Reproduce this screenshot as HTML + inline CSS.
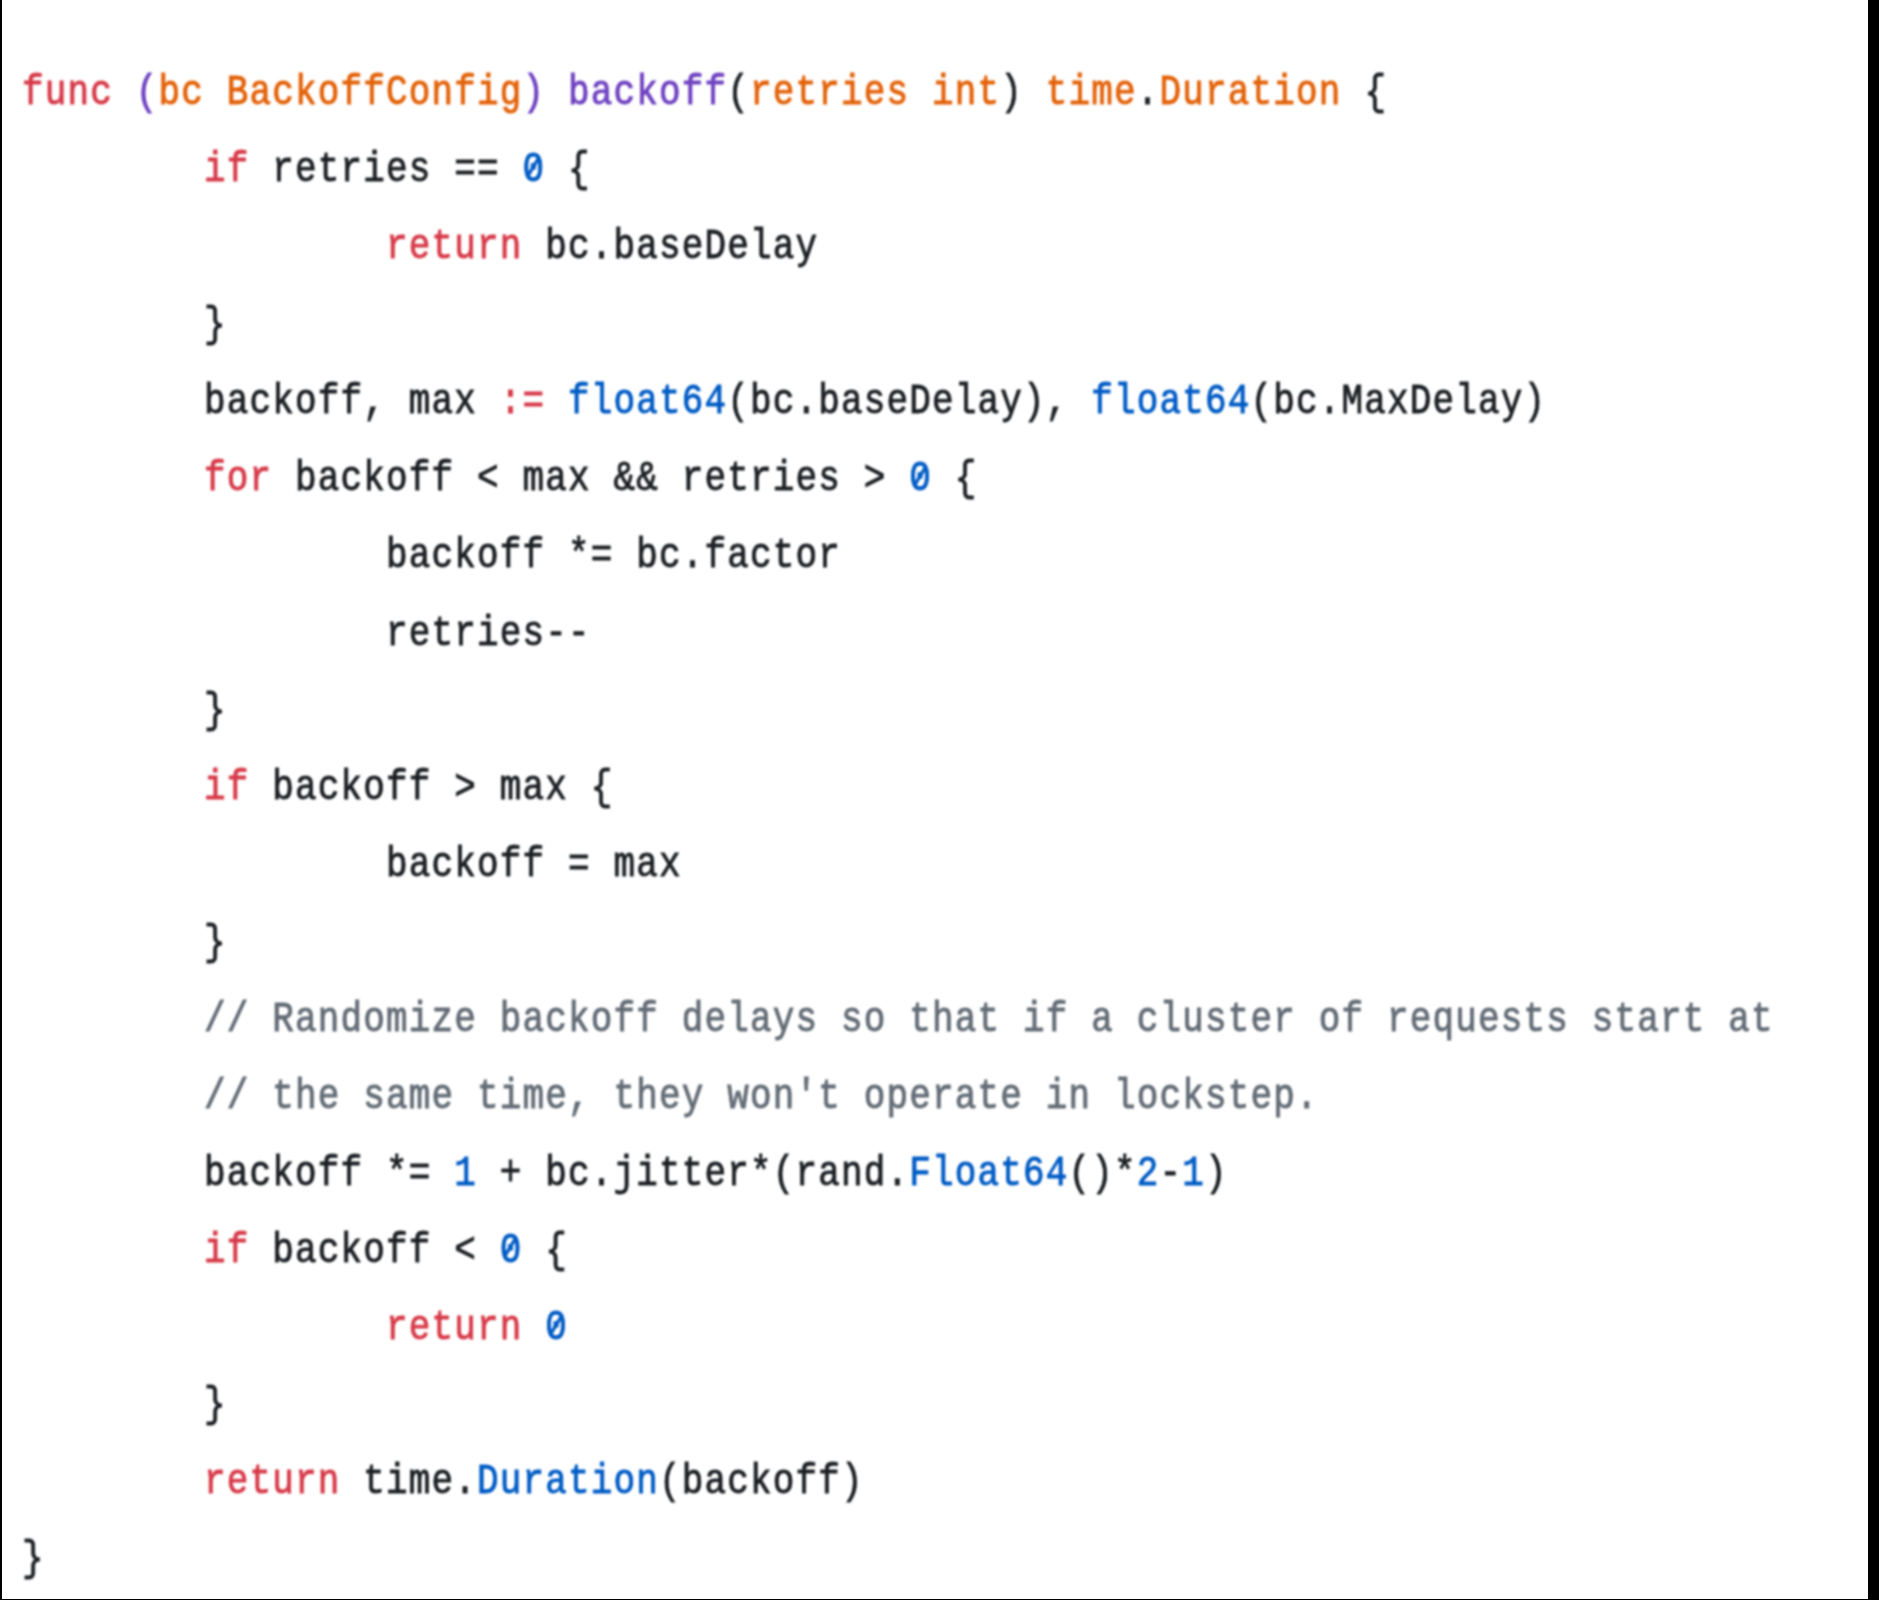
<!DOCTYPE html>
<html><head><meta charset="utf-8">
<style>
html,body{margin:0;padding:0;}
body{width:1879px;height:1600px;position:relative;overflow:hidden;background:#ffffff;}
#lb{position:absolute;left:0;top:0;width:2px;height:1600px;background:#000;}
#rb{position:absolute;left:1868px;top:0;width:11px;height:1600px;background:#000;}
#bb{position:absolute;left:0;top:1599px;width:1879px;height:1px;background:#000;}
#code{position:absolute;left:22.2px;top:55.4px;letter-spacing:1.493px;font-family:"Liberation Mono",monospace;font-size:45.5px;line-height:81.24px;white-space:pre;color:#1b1f23;transform:scale(0.79,0.95);transform-origin:0 0;-webkit-text-stroke:1px currentColor;}
#wrap{position:absolute;left:0;top:0;width:1879px;height:1600px;filter:blur(1px);}
.k{color:#d73a49}.f{color:#6f42c1}.p{color:#e36209}.c{color:#005cc5}.m{color:#636c76}
.z{position:relative}.z::after{content:"";position:absolute;left:11.65px;top:10.9px;width:4.2px;height:24px;background:currentColor;transform:rotate(36deg);}
</style></head><body>
<div id="lb"></div><div id="rb"></div><div id="bb"></div>
<div id="wrap"><div id="code"><span class="k">func</span> <span class="f">(</span><span class="p">bc BackoffConfig</span><span class="f">)</span> <span class="f">backoff</span>(<span class="p">retries int</span>) <span class="p">time</span>.<span class="p">Duration</span> {
        <span class="k">if</span> retries == <span class="c z">0</span> {
                <span class="k">return</span> bc.baseDelay
        }
        backoff, max <span class="k">:=</span> <span class="c">float64</span>(bc.baseDelay), <span class="c">float64</span>(bc.MaxDelay)
        <span class="k">for</span> backoff &lt; max &amp;&amp; retries &gt; <span class="c z">0</span> {
                backoff *= bc.factor
                retries--
        }
        <span class="k">if</span> backoff &gt; max {
                backoff = max
        }
        <span class="m">// Randomize backoff delays so that if a cluster of requests start at</span>
        <span class="m">// the same time, they won't operate in lockstep.</span>
        backoff *= <span class="c">1</span> + bc.jitter*(rand.<span class="c">Float64</span>()*<span class="c">2</span>-<span class="c">1</span>)
        <span class="k">if</span> backoff &lt; <span class="c z">0</span> {
                <span class="k">return</span> <span class="c z">0</span>
        }
        <span class="k">return</span> time.<span class="c">Duration</span>(backoff)
}</div></div>
</body></html>
